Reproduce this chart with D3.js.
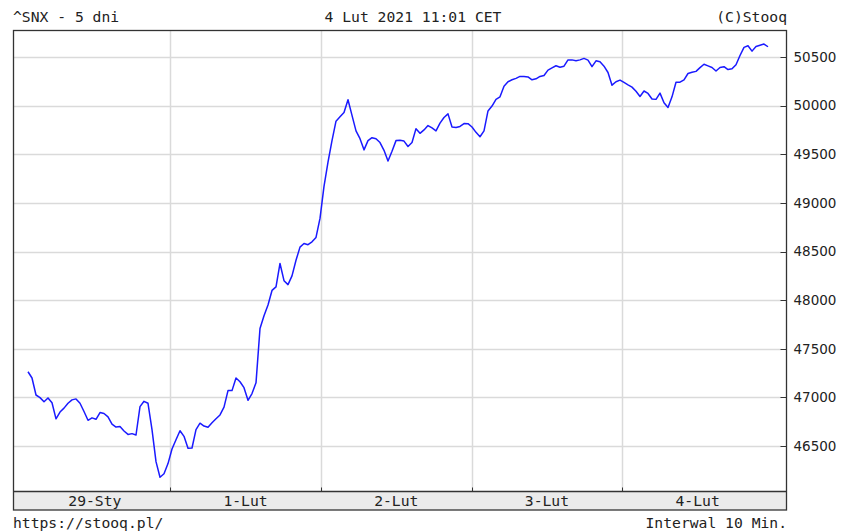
<!DOCTYPE html>
<html><head><meta charset="utf-8">
<script src="https://cdn.jsdelivr.net/npm/d3@7"></script>
<style>html,body{margin:0;padding:0;background:#fff;}</style>
</head><body>
<svg id="c" width="850" height="532"></svg>
<script>
const titleLeft = "^SNX - 5 dni";
const titleCenter = "4 Lut 2021 11:01 CET";
const titleRight = "(C)Stooq";
const footLeft = "https://stooq.pl/";
const footRight = "Interwal 10 Min.";
const dayLabels = ["29-Sty", "1-Lut", "2-Lut", "3-Lut", "4-Lut"];
const yTicks = [46500, 47000, 47500, 48000, 48500, 49000, 49500, 50000, 50500];
const values = [
47264,47200,47025,46998,46955,46995,46945,46780,46850,46890,
46940,46975,46985,46940,46855,46765,46790,46775,46845,46835,
46800,46725,46695,46700,46655,46620,46628,46614,46905,46960,
46940,46670,46340,46180,46215,46320,46470,46565,46658,46600,
46477,46480,46670,46735,46706,46693,46740,46780,46820,46900,
47070,47070,47200,47161,47100,46970,47040,47150,47709,47840,
47950,48100,48137,48377,48200,48160,48250,48410,48545,48582,
48570,48600,48645,48840,49170,49420,49640,49840,49885,49930,
50060,49900,49740,49660,49545,49640,49670,49660,49620,49540,
49430,49530,49640,49643,49635,49580,49620,49763,49715,49750,
49795,49770,49740,49820,49878,49915,49780,49775,49786,49815,
49814,49780,49725,49680,49740,49945,49995,50065,50090,50200,
50245,50266,50280,50300,50300,50295,50265,50275,50300,50310,
50365,50388,50410,50395,50405,50470,50470,50462,50470,50485,
50468,50400,50460,50450,50405,50340,50210,50245,50262,50238,
50213,50190,50148,50094,50150,50125,50068,50064,50128,50030,
49980,50090,50240,50241,50265,50330,50342,50352,50390,50425,
50408,50392,50355,50392,50400,50370,50378,50420,50515,50598,
50615,50560,50608,50620,50633,50605
];

const svg = d3.select("#c");
const L = 13.5, R = 786.5, T = 30.5, B = 491.5, BB = 510;
const mono = "'DejaVu Sans Mono', monospace";
const monoSize = 14.7;

const y = d3.scaleLinear().domain([46033, 50772]).range([B, T]);
const xi = d3.scaleLinear().domain([0, values.length - 1]).range([28, 768]);
const xd = d3.scaleBand().domain(dayLabels).range([19.5, 773]).paddingInner(0).paddingOuter(0);

// band
svg.append("rect").attr("x", L).attr("y", B).attr("width", R - L).attr("height", BB - B)
  .attr("fill", "#ebebeb");

// grid
const g = svg.append("g");
g.selectAll("line.h").data(yTicks).join("line")
  .attr("x1", L).attr("x2", R - 5).attr("y1", d => Math.round(y(d)) + 0.5).attr("y2", d => Math.round(y(d)) + 0.5)
  .attr("stroke", "#dadada").attr("stroke-width", 1.5);
g.selectAll("line.v").data(dayLabels.slice(1)).join("line")
  .attr("x1", d => Math.round(xd(d)) + 0.5).attr("x2", d => Math.round(xd(d)) + 0.5)
  .attr("y1", T).attr("y2", B)
  .attr("stroke", "#dadada").attr("stroke-width", 1.5);

// x ticks
g.selectAll("line.xt").data(dayLabels.slice(1)).join("line")
  .attr("x1", d => Math.round(xd(d)) + 0.5).attr("x2", d => Math.round(xd(d)) + 0.5)
  .attr("y1", B - 4).attr("y2", B).attr("stroke", "#333");

// y labels via axis
const yAxis = d3.axisRight(y).tickValues(yTicks).tickSize(0).tickPadding(7).tickFormat(d3.format("d"));
const ya = svg.append("g").attr("transform", `translate(${R},0)`).call(yAxis);
ya.select(".domain").remove();
ya.selectAll("text").attr("font-family", "'DejaVu Sans', Verdana, sans-serif").attr("font-size", 13.5).attr("fill", "#222");
svg.append("g").selectAll("line").data(yTicks).join("line")
  .attr("x1", R - 6).attr("x2", R).attr("y1", d => Math.round(y(d)) + 0.5).attr("y2", d => Math.round(y(d)) + 0.5)
  .attr("stroke", "#333");

// line
const line = d3.line().x((d, i) => xi(i)).y(d => y(d));
svg.append("path").datum(values).attr("d", line)
  .attr("fill", "none").attr("stroke", "#1a1aff").attr("stroke-width", 1.5).attr("stroke-linejoin", "round");

// frame
svg.append("rect").attr("x", L).attr("y", T).attr("width", R - L).attr("height", BB - T)
  .attr("fill", "none").attr("stroke", "#333").attr("stroke-width", 1.3);
svg.append("line").attr("x1", L).attr("x2", R).attr("y1", B).attr("y2", B).attr("stroke", "#333").attr("stroke-width", 1.3);

// day labels
svg.append("g").selectAll("text").data(dayLabels).join("text")
  .attr("x", d => xd(d) + xd.bandwidth() / 2).attr("y", 506)
  .attr("text-anchor", "middle").attr("font-family", mono).attr("font-size", monoSize).attr("fill", "#222")
  .text(d => d);

// header/footer
const txt = (s, x, yy, anchor) => svg.append("text").attr("x", x).attr("y", yy).attr("text-anchor", anchor)
  .attr("font-family", mono).attr("font-size", monoSize).attr("fill", "#222").text(s);
txt(titleLeft, 13, 22, "start");
txt(titleCenter, 413, 22, "middle");
txt(titleRight, 787, 22, "end");
txt(footLeft, 13, 528, "start");
txt(footRight, 787, 528, "end");
</script>
</body></html>
